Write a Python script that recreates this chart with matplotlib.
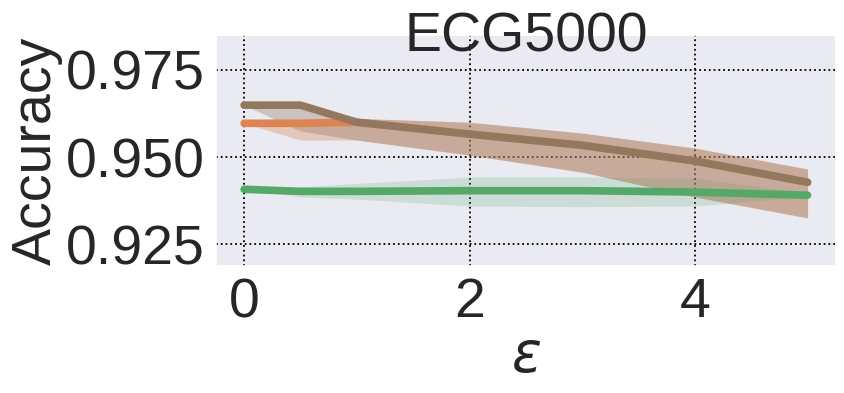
import numpy as np
import matplotlib
matplotlib.use('Agg')
import matplotlib.pyplot as plt
import seaborn as sns

# ── data ─────────────────────────────────────────────────────────────────────
eps = [0, 0.5, 1, 2, 3, 4, 5]

brown_mean = [0.9649, 0.9649, 0.9600, 0.9566, 0.9534, 0.9489, 0.9428]
brown_low  = [0.9649, 0.9575, 0.9549, 0.9506, 0.9457, 0.9386, 0.9326]
brown_high = [0.9649, 0.9655, 0.9611, 0.9600, 0.9569, 0.9526, 0.9466]

orange_mean = [0.9597, 0.9597, 0.9600, 0.9566, 0.9534, 0.9489, 0.9428]
orange_low  = [0.9597, 0.9549, 0.9549, 0.9506, 0.9457, 0.9386, 0.9326]
orange_high = [0.9597, 0.9605, 0.9611, 0.9600, 0.9569, 0.9526, 0.9466]

green_mean = [0.9408, 0.9402, 0.9402, 0.9404, 0.9404, 0.9400, 0.9391]
green_low  = [0.9408, 0.9386, 0.9380, 0.9360, 0.9358, 0.9360, 0.9387]
green_high = [0.9408, 0.9414, 0.9425, 0.9443, 0.9443, 0.9440, 0.9397]

# (mean, low, high, colour, band alpha)
series = [
    (orange_mean, orange_low, orange_high, '#dd8452', 0.35),
    (green_mean, green_low, green_high, '#55a868', 0.2),
    (brown_mean, brown_low, brown_high, '#937860', 0.35),
]

sns.set_theme(style='darkgrid')
plt.rcParams['font.family'] = ['Liberation Sans', 'DejaVu Sans']

fig = plt.figure(figsize=(8.45, 3.93), dpi=100)
ax = fig.add_axes([0.2556, 0.323, 0.7334, 0.588])

for mean, lo, hi, color, a in series:
    ax.fill_between(eps, lo, hi, color=color, alpha=a, linewidth=0)
    ax.plot(eps, mean, color=color, linewidth=5.5, solid_capstyle='round')

ax.set_xlim(-0.25, 5.25)
ax.set_ylim(0.9188, 0.985)
ax.set_xticks([0, 2, 4])
ax.set_yticks([0.925, 0.950, 0.975])
ax.grid(True, color='black', linestyle=':', linewidth=1.3)
ax.tick_params(labelsize=40, pad=2)
ax.set_xlabel(r'$\varepsilon$', fontsize=40, labelpad=2)
ax.set_ylabel('Accuracy', fontsize=40, labelpad=2)
ax.set_title('ECG5000', fontsize=40, pad=-12)

fig.savefig('out.png', dpi=100)
